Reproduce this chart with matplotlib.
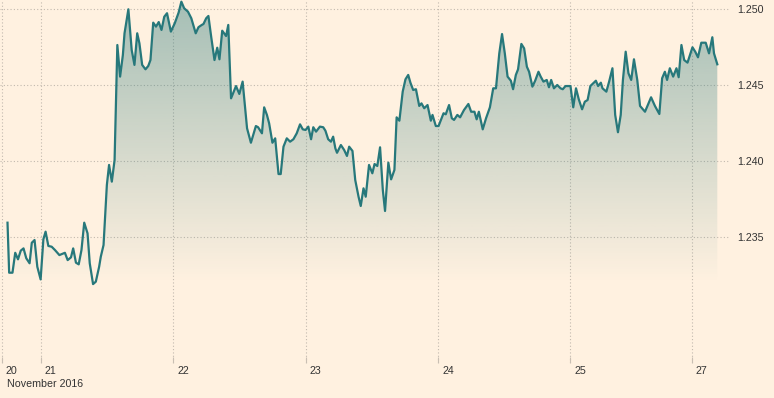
import numpy as np
import matplotlib
matplotlib.use('Agg')
import matplotlib.pyplot as plt
import matplotlib.transforms as mtransforms

# trading hours since the Sunday 20 Nov open (weekend gap removed)
hours = [1.0, 1.3, 1.9, 2.4, 2.9, 3.4, 3.9, 4.4, 5.0, 5.4, 5.9, 6.4, 7.0, 7.5, 7.9, 8.4,
         9.0, 9.6, 10.4, 11.4, 11.9, 12.5, 12.9, 13.4, 13.9, 14.4, 14.9, 15.5, 15.9, 16.5,
         17.0, 17.6, 17.9, 18.4, 19.0, 19.4, 19.9, 20.4, 20.9, 21.4, 21.9, 22.2, 22.9, 23.5,
         24.0, 24.5, 24.9, 25.4, 26.0, 26.5, 26.9, 27.4, 27.9, 28.4, 28.9, 29.4, 29.9, 30.6,
         31.3, 32.0, 32.5, 33.0, 33.7, 34.3, 35.1, 35.6, 36.2, 36.5, 37.0, 37.4, 37.9, 38.5,
         39.0, 39.4, 39.9, 40.6, 41.0, 41.5, 42.4, 43.0, 43.6, 44.4, 45.1, 46.0, 46.4, 47.1,
         47.5, 48.0, 48.4, 49.0, 49.5, 50.1, 50.5, 51.0, 51.6, 52.2, 52.8, 53.4, 54.0, 54.5,
         55.0, 55.5, 56.0, 56.4, 56.9, 57.6, 58.2, 58.6, 59.1, 59.6, 60.0, 60.4, 60.7, 61.4,
         62.0, 62.5, 62.9, 63.5, 64.0, 64.6, 65.0, 65.5, 65.9, 66.5, 67.1, 67.5, 68.0, 68.5,
         69.0, 69.4, 70.0, 70.5, 71.1, 71.5, 72.0, 72.6, 73.1, 73.6, 74.0, 74.5, 75.0, 75.6,
         76.0, 76.5, 77.1, 77.7, 78.0, 78.6, 79.1, 80.0, 80.4, 81.0, 81.5, 81.9, 82.5, 83.0,
         83.7, 84.5, 85.0, 85.6, 86.0, 86.4, 87.1, 87.7, 88.4, 89.0, 89.5, 90.1, 90.6, 91.1,
         91.6, 92.2, 92.6, 93.1, 93.5, 94.1, 94.6, 95.1, 95.5, 96.1, 96.6, 97.2, 97.6, 98.1,
         98.7, 99.1, 99.5, 100.0, 100.6, 101.2, 101.6, 102.1, 103.0, 103.5, 104.0, 104.5,
         105.1, 105.6, 106.1, 106.6, 107.1, 107.6, 108.0, 108.5, 108.8, 109.5, 110.0, 110.6,
         111.1, 111.6, 112.1, 112.5, 113.0, 113.5, 114.0, 114.5, 115.1, 115.6, 116.5, 117.6,
         118.3, 119.1, 119.6, 120.1, 120.5, 121.0, 121.6, 122.2, 122.6, 123.1, 123.6, 124.2,
         125.1, 125.6, 126.1, 126.7, 127.5, 128.1, 128.7, 129.0, 129.6]

prices = [1.23596, 1.23267, 1.23267, 1.23398, 1.23355, 1.23412, 1.23427, 1.23362, 1.23329,
          1.23464, 1.23482, 1.23306, 1.23223, 1.23487, 1.23537, 1.23443, 1.23438, 1.23416,
          1.23383, 1.23398, 1.23350, 1.23368, 1.23427, 1.23333, 1.23322, 1.23416, 1.23596,
          1.23526, 1.23329, 1.23192, 1.23208, 1.23306, 1.23372, 1.23449, 1.23844, 1.23976,
          1.23866, 1.24008, 1.24765, 1.24557, 1.24699, 1.24842, 1.25000, 1.24732, 1.24634,
          1.24842, 1.24776, 1.24634, 1.24605, 1.24627, 1.24666, 1.24912, 1.24886, 1.24916,
          1.24864, 1.24951, 1.24974, 1.24853, 1.24908, 1.24978, 1.25050, 1.25007, 1.24984,
          1.24941, 1.24842, 1.24882, 1.24897, 1.24903, 1.24941, 1.24956, 1.24820, 1.24666,
          1.24747, 1.24671, 1.24859, 1.24824, 1.24897, 1.24414, 1.24495, 1.24443, 1.24524,
          1.24217, 1.24122, 1.24232, 1.24224, 1.24184, 1.24355, 1.24305, 1.24250, 1.24122,
          1.24151, 1.23916, 1.23916, 1.24096, 1.24151, 1.24129, 1.24145, 1.24184, 1.24243,
          1.24210, 1.24206, 1.24228, 1.24145, 1.24224, 1.24195, 1.24228, 1.24224, 1.24201,
          1.24145, 1.24129, 1.24162, 1.24085, 1.24056, 1.24107, 1.24074, 1.24035, 1.24096,
          1.24068, 1.23877, 1.23767, 1.23706, 1.23822, 1.23767, 1.23976, 1.23921, 1.23982,
          1.23969, 1.24092, 1.23811, 1.23673, 1.23991, 1.23881, 1.23943, 1.24289, 1.24267,
          1.24458, 1.24539, 1.24568, 1.24517, 1.24469, 1.24474, 1.24364, 1.24381, 1.24349,
          1.24370, 1.24267, 1.24305, 1.24232, 1.24232, 1.24316, 1.24309, 1.24370, 1.24283,
          1.24272, 1.24305, 1.24289, 1.24337, 1.24377, 1.24326, 1.24326, 1.24276, 1.24326,
          1.24210, 1.24283, 1.24355, 1.24480, 1.24480, 1.24710, 1.24837, 1.24710, 1.24557,
          1.24530, 1.24474, 1.24568, 1.24605, 1.24772, 1.24743, 1.24622, 1.24589, 1.24491,
          1.24530, 1.24589, 1.24557, 1.24524, 1.24535, 1.24487, 1.24535, 1.24480, 1.24502,
          1.24480, 1.24474, 1.24495, 1.24495, 1.24355, 1.24480, 1.24408, 1.24342, 1.24392,
          1.24403, 1.24495, 1.24513, 1.24530, 1.24495, 1.24517, 1.24480, 1.24458, 1.24524,
          1.24612, 1.24305, 1.24191, 1.24305, 1.24535, 1.24721, 1.24579, 1.24535, 1.24671,
          1.24535, 1.24364, 1.24326, 1.24421, 1.24364, 1.24311, 1.24546, 1.24589, 1.24535,
          1.24612, 1.24557, 1.24612, 1.24553, 1.24765, 1.24666, 1.24649, 1.24750, 1.24721,
          1.24684, 1.24780, 1.24780, 1.24710, 1.24816, 1.24710, 1.24638]

day_ticks = [0, 7, 31, 55, 79, 103, 125]
day_labels = ['20', '21', '22', '23', '24', '25', '27']
y_ticks = [1.235, 1.240, 1.245, 1.250]

bg = '#fff1e0'
line_col = '#27787b'
grid_col = '#c2b9ae'
text_col = '#333333'

plt.rcParams['font.family'] = ['Liberation Sans', 'DejaVu Sans']

fig = plt.figure(figsize=(7.74, 3.98), dpi=100, facecolor=bg)
ax = fig.add_axes([0, 1 - 363 / 398, 730 / 774, 363 / 398])
ax.set_facecolor(bg)

x = np.array(hours)
y = np.array(prices)
fill_base = 1.232

# gradient fill below the line
poly = ax.fill_between(x, y, fill_base, facecolor='none', edgecolor='none')
ymax = 1.2506
grad = np.zeros((256, 1, 4))
grad[:, 0, :3] = matplotlib.colors.to_rgb(line_col)
grad[:, 0, 3] = np.linspace(0.42, 0.0, 256)
im = ax.imshow(grad, aspect='auto', extent=[x.min(), x.max(), fill_base, ymax],
               origin='upper', zorder=1)
im.set_clip_path(poly.get_paths()[0], transform=ax.transData)

ax.plot(x, y, color=line_col, lw=1.6, zorder=3)

ax.set_xlim(-0.36, 131.9)
ax.set_ylim(1.22673, 1.25061)

for s in ax.spines.values():
    s.set_visible(False)

ax.set_yticks(y_ticks)
ax.set_yticklabels(['%.3f' % v for v in y_ticks])
ax.yaxis.tick_right()
ax.tick_params(axis='y', length=0, pad=5, labelsize=7.7, labelcolor=text_col)

ax.set_xticks(day_ticks)
ax.set_xticklabels(day_labels)
ax.tick_params(axis='x', direction='in', length=4, width=0.8, color='#c9bfb3',
               pad=2, labelsize=7.7, labelcolor=text_col)
offset = mtransforms.ScaledTranslation(4 / 100, 0, fig.dpi_scale_trans)
for lab in ax.get_xticklabels():
    lab.set_horizontalalignment('left')
    lab.set_transform(lab.get_transform() + offset)

ax.grid(True, color=grid_col, linestyle=(0, (1, 2)), linewidth=0.8, zorder=0)
ax.set_axisbelow(True)

fig.text(7 / 774, 1 - 384 / 398, 'November 2016', fontsize=7.7, color=text_col,
         ha='left', va='center')

fig.savefig('out.png', dpi=100, facecolor=bg)
